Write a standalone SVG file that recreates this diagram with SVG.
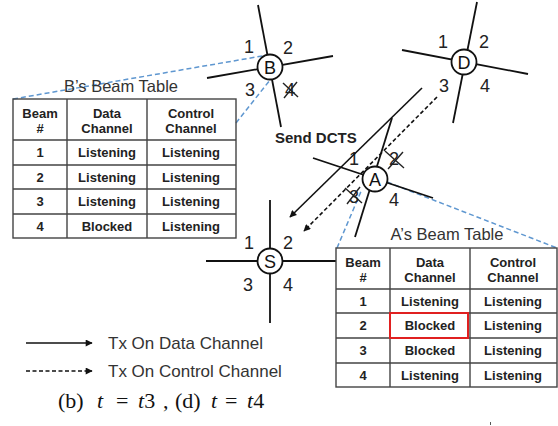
<svg xmlns="http://www.w3.org/2000/svg" width="558" height="426" viewBox="0 0 558 426">
  <defs>
    <marker id="ah" viewBox="0 0 10 10" refX="9" refY="5" markerWidth="9" markerHeight="7" markerUnits="userSpaceOnUse" orient="auto">
      <path d="M0,0 L10,5 L0,10 z" fill="#111"/>
    </marker>
  </defs>
  <style>
    text { font-family: "Liberation Sans", Arial, sans-serif; }
    .beam { stroke: #111; stroke-width: 1.8; fill: none; }
    .node { fill: #fff; stroke: #111; stroke-width: 1.8; }
    .letter { font-size: 18px; fill: #111; text-anchor: middle; }
    .num { font-size: 18px; fill: #222; text-anchor: middle; }
    .xmark { stroke: #222; stroke-width: 1.4; }
    .link { stroke: #5f97d0; stroke-width: 1.5; stroke-dasharray: 5 3; fill: none; }
    .grid { stroke: #444; stroke-width: 1.4; fill: none; }
    .title { font-size: 16.5px; fill: #333; text-anchor: middle; }
    .cell { font-size: 13px; font-weight: bold; fill: #222; text-anchor: middle; }
    .data { stroke: #111; stroke-width: 1.6; fill: none; }
    .ctrl { stroke: #111; stroke-width: 1.6; stroke-dasharray: 4 2.5; fill: none; }
    .legend { font-size: 17px; fill: #333; }
    .cap { font-family: "Liberation Serif", "Times New Roman", serif; font-size: 22px; fill: #111; }
  </style>
  <rect width="558" height="426" fill="#fff"/>

  <!-- beam-table callout lines -->
  <g id="callouts">
    <line class="link" x1="13" y1="99" x2="268" y2="55"/>
    <line class="link" x1="236" y1="123" x2="270" y2="80"/>
    <line class="link" x1="337" y1="248" x2="362" y2="189"/>
    <line class="link" x1="387" y1="182" x2="557" y2="248"/>
  </g>

  <!-- node B -->
  <g id="node-B">
    <line class="beam" x1="258" y1="5" x2="281" y2="127"/>
    <line class="beam" x1="207" y1="78" x2="333" y2="56"/>
    <circle class="node" cx="270" cy="67" r="12.5"/>
    <text class="letter" x="270" y="73.5">B</text>
    <text class="num" x="249" y="53">1</text>
    <text class="num" x="288" y="54">2</text>
    <text class="num" x="250" y="96">3</text>
    <text class="num" x="290" y="96">4</text>
    <line class="xmark" x1="283" y1="83" x2="298" y2="97"/>
    <line class="xmark" x1="297" y1="82" x2="284" y2="98"/>
  </g>

  <!-- node D -->
  <g id="node-D">
    <line class="beam" x1="477" y1="2" x2="453" y2="123"/>
    <line class="beam" x1="402" y1="50" x2="528" y2="74"/>
    <circle class="node" cx="464" cy="62" r="12.5"/>
    <text class="letter" x="464" y="68.5">D</text>
    <text class="num" x="443" y="48">1</text>
    <text class="num" x="484" y="48">2</text>
    <text class="num" x="444" y="92">3</text>
    <text class="num" x="485" y="92">4</text>
  </g>

  <!-- node A -->
  <g id="node-A">
    <line class="beam" x1="392" y1="118" x2="355" y2="237"/>
    <line class="beam" x1="313" y1="158" x2="433" y2="198"/>
    <circle class="node" cx="375" cy="179" r="12.5"/>
    <text class="letter" x="375" y="185.5">A</text>
    <text class="num" x="354" y="165">1</text>
    <text class="num" x="394" y="165">2</text>
    <text class="num" x="354" y="203">3</text>
    <text class="num" x="394" y="206">4</text>
    <line class="xmark" x1="385" y1="151" x2="404" y2="168"/>
    <line class="xmark" x1="403" y1="152" x2="388" y2="169"/>
    <line class="xmark" x1="345" y1="188" x2="362" y2="203"/>
    <line class="xmark" x1="360" y1="187" x2="347" y2="204"/>
  </g>

  <!-- node S -->
  <g id="node-S">
    <line class="beam" x1="270" y1="200" x2="270" y2="323"/>
    <line class="beam" x1="206" y1="261" x2="336" y2="261"/>
    <circle class="node" cx="270" cy="261" r="12.5"/>
    <text class="letter" x="270" y="267.5">S</text>
    <text class="num" x="249" y="249">1</text>
    <text class="num" x="288" y="249">2</text>
    <text class="num" x="248" y="291">3</text>
    <text class="num" x="288" y="291">4</text>
  </g>

  <!-- DCTS transmissions -->
  <g id="connectors">
    <line class="data" x1="422" y1="88" x2="290" y2="217" marker-end="url(#ah)"/>
    <line class="ctrl" x1="437" y1="97" x2="304" y2="231" marker-end="url(#ah)"/>
    <text x="275" y="143" font-size="15" font-weight="bold" fill="#222">Send DCTS</text>
  </g>

  <!-- B's beam table -->
  <g id="table-B">
    <text class="title" x="121" y="92">B’s Beam Table</text>
    <rect class="grid" x="13" y="99" width="223" height="139"/>
    <path class="grid" d="M67,99 V238 M147,99 V238 M13,140 H236 M13,165 H236 M13,189 H236 M13,214 H236"/>
    <text class="cell" x="40" y="118">Beam</text>
    <text class="cell" x="40" y="133">#</text>
    <text class="cell" x="107" y="118">Data</text>
    <text class="cell" x="107" y="133">Channel</text>
    <text class="cell" x="191" y="118">Control</text>
    <text class="cell" x="191" y="133">Channel</text>
    <text class="cell" x="40" y="157">1</text>
    <text class="cell" x="107" y="157">Listening</text>
    <text class="cell" x="191" y="157">Listening</text>
    <text class="cell" x="40" y="181.5">2</text>
    <text class="cell" x="107" y="181.5">Listening</text>
    <text class="cell" x="191" y="181.5">Listening</text>
    <text class="cell" x="40" y="206">3</text>
    <text class="cell" x="107" y="206">Listening</text>
    <text class="cell" x="191" y="206">Listening</text>
    <text class="cell" x="40" y="230.5">4</text>
    <text class="cell" x="107" y="230.5">Blocked</text>
    <text class="cell" x="191" y="230.5">Listening</text>
  </g>

  <!-- A's beam table -->
  <g id="table-A">
    <text class="title" x="447" y="240">A’s Beam Table</text>
    <rect class="grid" x="336" y="248" width="221" height="139"/>
    <path class="grid" d="M390,248 V387 M470,248 V387 M336,289 H557 M336,313 H557 M336,338 H557 M336,363 H557"/>
    <rect x="390" y="313" width="78" height="25" fill="none" stroke="#e02020" stroke-width="2"/>
    <text class="cell" x="363" y="267">Beam</text>
    <text class="cell" x="363" y="282">#</text>
    <text class="cell" x="430" y="267">Data</text>
    <text class="cell" x="430" y="282">Channel</text>
    <text class="cell" x="513" y="267">Control</text>
    <text class="cell" x="513" y="282">Channel</text>
    <text class="cell" x="363" y="305.5">1</text>
    <text class="cell" x="430" y="305.5">Listening</text>
    <text class="cell" x="513" y="305.5">Listening</text>
    <text class="cell" x="363" y="330">2</text>
    <text class="cell" x="430" y="330">Blocked</text>
    <text class="cell" x="513" y="330">Listening</text>
    <text class="cell" x="363" y="355">3</text>
    <text class="cell" x="430" y="355">Blocked</text>
    <text class="cell" x="513" y="355">Listening</text>
    <text class="cell" x="363" y="379.5">4</text>
    <text class="cell" x="430" y="379.5">Listening</text>
    <text class="cell" x="513" y="379.5">Listening</text>
  </g>

  <!-- legend -->
  <g id="legend">
    <line class="data" x1="26" y1="343" x2="92" y2="343" marker-end="url(#ah)"/>
    <line class="ctrl" x1="26" y1="371" x2="92" y2="371" marker-end="url(#ah)"/>
    <text class="legend" x="108" y="349">Tx On Data Channel</text>
    <text class="legend" x="108" y="377">Tx On Control Channel</text>
  </g>

  <!-- caption -->
  <g id="caption">
    <text class="cap" y="408"><tspan x="58">(b)</tspan><tspan x="97" font-style="italic">t</tspan><tspan x="116">=</tspan><tspan x="138" font-style="italic">t</tspan><tspan>3</tspan><tspan x="163">,</tspan><tspan x="175">(d)</tspan><tspan x="211" font-style="italic">t</tspan><tspan x="225">=</tspan><tspan x="247" font-style="italic">t</tspan><tspan>4</tspan></text>
  </g>

  <line x1="490.5" y1="422" x2="490.5" y2="425" stroke="#555" stroke-width="1"/>
</svg>
